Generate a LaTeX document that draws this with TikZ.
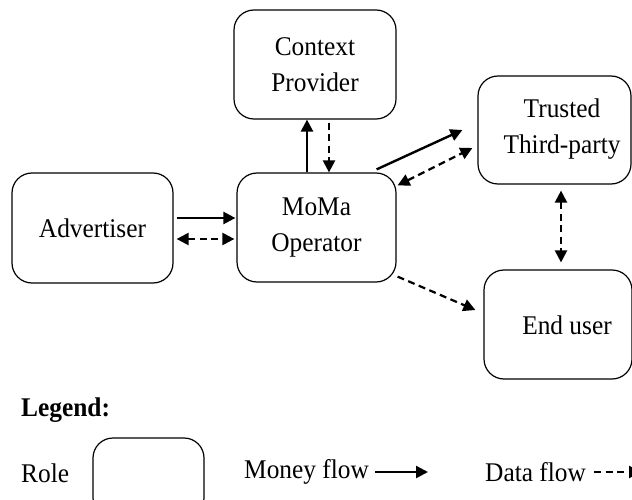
\documentclass[tikz,border=0pt]{standalone}
\usepackage{fontspec}
\setmainfont{Liberation Serif}[FakeStretch=0.94]
\usetikzlibrary{arrows.meta,calc}
\begin{document}
\begin{tikzpicture}[x=1pt,y=-1pt,
  role/.style={draw,line width=1.2pt,rounded corners=20pt,align=center,inner sep=0pt,
    font=\fontsize{27}{36.5}\selectfont},
  lbl/.style={align=center,inner sep=0pt,font=\fontsize{27}{36.5}\selectfont},
  tip/.style={-{Triangle[length=12pt,width=12pt]}},
  money/.style={line width=2.4pt,tip},
  data/.style={line width=2.2pt,dash pattern=on 7pt off 4.5pt,tip},
  datab/.style={data,{Triangle[length=12pt,width=12pt]}-{Triangle[length=12pt,width=12pt]}},
]
\useasboundingbox (0,0) rectangle (632,500);
\clip (0,0) rectangle (632,500);

% roles
\node[role,minimum width=161pt,minimum height=110pt] (adv) at (92.5,228) {Advertiser};
\node[role,minimum width=162pt,minimum height=109pt] (ctx) at (315,64.5) {Context\\Provider};
\node[role,minimum width=159pt,minimum height=109pt] (moma) at (316.5,227.5) {MoMa\\Operator};
\node[role,minimum width=153pt,minimum height=108pt] (ttp) at (554.5,130) {};
\node[lbl] (ttptext) at (562,129) {Trusted\\Third-party};
\node[role,minimum width=148pt,minimum height=109pt] (user) at (558,324.5) {};
\node[lbl] (usertext) at (567,325) {End user};

% flows
\draw[money,shorten <=3pt,shorten >=1pt] (adv.east |- 0,218) -- (moma.west |- 0,218);
\draw[datab,shorten <=3pt,shorten >=2pt] (adv.east |- 0,239) -- (moma.west |- 0,239);
\draw[money] (moma.north -| 307,0) -- (ctx.south -| 307,0);
\draw[data,shorten <=3pt] (ctx.south -| 329,0) -- (moma.north -| 329,0);
\draw[money] ($(moma.north east)+(-20,-3)$) -- ($(ttp.west)+(-15,0)$);
\draw[datab] ($(moma.north east)+(1,13)$) -- ($(ttp.west)+(-5,18)$);
\draw[data] ($(moma.south east)+(1,-6)$) -- ($(user.west)+(-8,-14.5)$);
\draw[datab,shorten <=6pt,shorten >=7pt] (ttp.south -| 561,0) -- (user.north -| 561,0);

% legend
\node[lbl,anchor=west,font=\fontsize{27}{30}\selectfont\bfseries] (legend) at (21,410) {Legend:};
\node[lbl,anchor=west] (rolelbl) at (21,473) {Role};
\node[role,minimum width=111pt,minimum height=80pt] (rolebox) at (148.5,478) {};
\node[lbl,anchor=west] (moneylbl) at (244,472) {Money flow};
\coordinate (moneyend) at (428,472);
\draw[money] ([xshift=6pt]moneylbl.east) -- (moneyend);
\node[lbl,anchor=west] (datalbl) at (485,472) {Data flow};
\coordinate (dataend) at (641,472);
\draw[data] ([xshift=8pt]datalbl.east) -- (dataend);
\end{tikzpicture}
\end{document}
